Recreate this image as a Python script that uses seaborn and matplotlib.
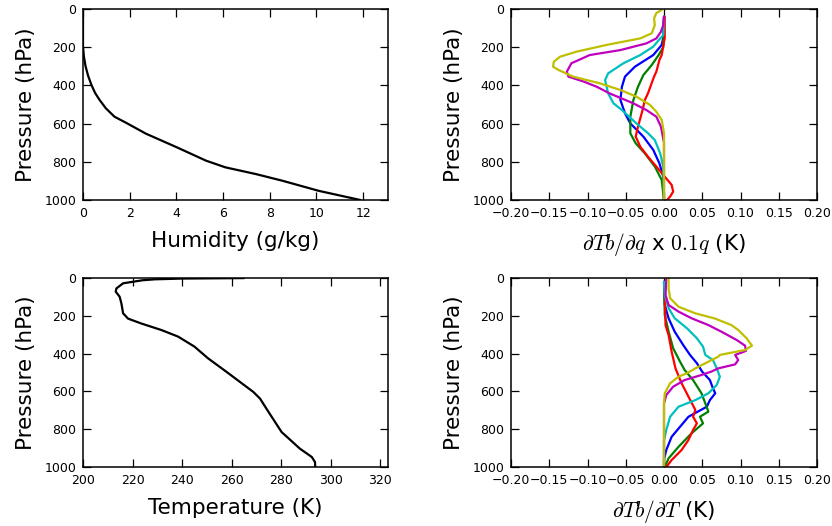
import numpy as np
import pandas as pd
import matplotlib
matplotlib.use("Agg")
import matplotlib.pyplot as plt
import seaborn as sns

# ---------------- data ----------------
# humidity profile (g/kg) vs pressure (hPa)
hum_p = [0, 100, 194, 250, 300, 350, 397, 440, 476, 520, 564, 596, 653, 723, 794, 829, 864, 899, 952, 1000]
hum_q = [0.0, 0.0, 0.0, 0.04, 0.11, 0.22, 0.36, 0.52, 0.71, 0.98, 1.35, 1.85, 2.7, 4.0, 5.27, 6.1, 7.4, 8.54, 10.1, 11.88]

# temperature profile (K) vs pressure (hPa)
tmp_p = [0.5, 3, 7, 12, 28, 55, 72, 99, 134, 187, 215, 241, 275, 310, 363, 425, 497, 603, 638, 700, 815, 903, 947, 974, 1000]
tmp_T = [265, 240, 229, 224, 216.2, 213.5, 213.2, 214.8, 215.5, 216.2, 218.2, 223.6, 231.6, 238.4, 245.0, 250.5,
         258.0, 268.8, 271.5, 274.5, 280.2, 287.6, 292.4, 293.7, 293.8]

channels = ["b", "g", "r", "c", "m", "y"]

# dTb/dq x 0.1q (K)
dq_b_p = [40, 150, 188, 241, 302, 354, 407, 476, 546, 599, 668, 738, 808, 878, 1000]
dq_b_v = [0.0, -0.001, -0.003, -0.014, -0.038, -0.051, -0.055, -0.057, -0.051, -0.044, -0.027, -0.014, -0.006, -0.001, 0.0]
dq_g_p = [40, 200, 241, 293, 346, 407, 476, 564, 625, 651, 703, 756, 825, 895, 1000]
dq_g_v = [0.0, -0.001, -0.007, -0.016, -0.027, -0.034, -0.040, -0.044, -0.044, -0.044, -0.037, -0.025, -0.012, -0.003, 0.0]
dq_r_p = [40, 150, 241, 267, 328, 354, 398, 442, 476, 529, 616, 668, 721, 773, 825, 878, 921, 956, 982, 1000]
dq_r_v = [0.001, 0.001, -0.003, -0.006, -0.010, -0.013, -0.017, -0.021, -0.025, -0.028, -0.034, -0.037, -0.031,
          -0.021, -0.010, 0.001, 0.010, 0.012, 0.008, 0.004]
dq_c_p = [40, 137, 154, 197, 241, 284, 337, 372, 442, 494, 529, 599, 650, 686, 756, 825, 1000]
dq_c_v = [0.0, -0.001, -0.005, -0.014, -0.031, -0.053, -0.073, -0.077, -0.073, -0.066, -0.055, -0.036, -0.021, -0.012,
          -0.005, -0.001, 0.0]
dq_m_p = [40, 84, 119, 154, 180, 215, 241, 284, 328, 354, 380, 407, 442, 494, 529, 564, 616, 700, 1000]
dq_m_v = [0.0, -0.001, -0.004, -0.010, -0.023, -0.057, -0.097, -0.121, -0.127, -0.125, -0.105, -0.088, -0.071, -0.040,
          -0.023, -0.010, -0.004, 0.0, 0.0]
dq_y_p = [5, 21, 49, 84, 127, 154, 188, 223, 250, 276, 302, 319, 354, 389, 424, 459, 503, 538, 581, 650, 1000]
dq_y_v = [-0.003, -0.010, -0.013, -0.012, -0.016, -0.031, -0.075, -0.114, -0.136, -0.144, -0.145, -0.138, -0.119,
          -0.084, -0.057, -0.036, -0.018, -0.010, -0.003, 0.0, 0.0]

# dTb/dT (K)
dT_b_p = [20, 143, 213, 284, 354, 407, 451, 496, 540, 584, 610, 646, 681, 734, 787, 840, 910, 960, 1000]
dT_b_v = [0.0, 0.001, 0.006, 0.014, 0.025, 0.034, 0.043, 0.050, 0.060, 0.064, 0.067, 0.060, 0.056, 0.032, 0.021,
          0.010, 0.003, 0.0, 0.0]
dT_g_p = [20, 196, 284, 372, 443, 487, 540, 610, 663, 707, 734, 769, 822, 893, 954, 1000]
dT_g_v = [0.0, 0.001, 0.006, 0.012, 0.021, 0.027, 0.038, 0.049, 0.054, 0.058, 0.047, 0.051, 0.036, 0.019, 0.006, 0.001]
dT_r_p = [20, 250, 302, 390, 478, 557, 628, 698, 734, 769, 804, 857, 910, 963, 1000]
dT_r_v = [0.001, 0.002, 0.006, 0.010, 0.015, 0.023, 0.032, 0.041, 0.038, 0.043, 0.038, 0.032, 0.023, 0.010, 0.003]
dT_c_p = [20, 90, 160, 213, 266, 319, 363, 407, 434, 478, 522, 566, 610, 646, 681, 734, 804, 860, 1000]
dT_c_v = [0.0, 0.001, 0.006, 0.014, 0.030, 0.043, 0.051, 0.054, 0.064, 0.069, 0.073, 0.069, 0.058, 0.041, 0.019,
          0.008, 0.003, 0.0, 0.0]
dT_m_p = [5, 90, 143, 178, 213, 249, 284, 328, 358, 386, 407, 434, 457, 478, 495, 513, 540, 575, 619, 663, 1000]
dT_m_v = [0.003, 0.002, 0.006, 0.019, 0.036, 0.058, 0.075, 0.095, 0.106, 0.107, 0.093, 0.097, 0.093, 0.071, 0.062,
          0.049, 0.027, 0.012, 0.003, 0.0, 0.0]
dT_y_p = [2, 55, 107, 152, 187, 215, 249, 275, 319, 358, 381, 407, 416, 451, 478, 504, 522, 557, 610, 660, 1000]
dT_y_v = [0.006, 0.006, 0.008, 0.019, 0.041, 0.067, 0.088, 0.097, 0.108, 0.115, 0.106, 0.073, 0.071, 0.054, 0.041,
          0.030, 0.019, 0.008, 0.001, 0.0, 0.0]

p_ticks = [0, 200, 400, 600, 800, 1000]
hum_ticks = [0, 2, 4, 6, 8, 10, 12]
tmp_ticks = [200, 220, 240, 260, 280, 300, 320]
jac_ticks = [-0.20, -0.15, -0.10, -0.05, 0.00, 0.05, 0.10, 0.15, 0.20]

# ---------------- build frames ----------------
hum_df = pd.DataFrame({"p": hum_p, "v": hum_q})
tmp_df = pd.DataFrame({"p": tmp_p, "v": tmp_T})


def long_frame(series):
    parts = []
    for ch, (pp, vv) in series.items():
        parts.append(pd.DataFrame({"p": pp, "v": vv, "ch": ch}))
    return pd.concat(parts, ignore_index=True)


dq_df = long_frame({"b": (dq_b_p, dq_b_v), "g": (dq_g_p, dq_g_v), "r": (dq_r_p, dq_r_v),
                    "c": (dq_c_p, dq_c_v), "m": (dq_m_p, dq_m_v), "y": (dq_y_p, dq_y_v)})
dT_df = long_frame({"b": (dT_b_p, dT_b_v), "g": (dT_g_p, dT_g_v), "r": (dT_r_p, dT_r_v),
                    "c": (dT_c_p, dT_c_v), "m": (dT_m_p, dT_m_v), "y": (dT_y_p, dT_y_v)})

palette = {"b": "#0000ff", "g": "#008000", "r": "#ff0000",
           "c": "#00bfbf", "m": "#bf00bf", "y": "#bfbf00"}

# ---------------- style ----------------
sns.set_style("ticks")
plt.rcParams.update({
    "font.family": ["DejaVu Sans"],
    "mathtext.fontset": "cm",
    "axes.edgecolor": "black",
    "axes.linewidth": 1.1,
    "xtick.color": "black", "ytick.color": "black",
    "xtick.direction": "in", "ytick.direction": "in",
    "xtick.top": True, "ytick.right": True,
    "xtick.major.size": 6, "ytick.major.size": 6,
    "xtick.major.width": 0.9, "ytick.major.width": 0.9,
    "xtick.major.pad": 5, "ytick.major.pad": 5,
    "xtick.labelsize": 9, "ytick.labelsize": 9,
    "axes.labelsize": 15.5,
    "axes.labelcolor": "black",
    "text.color": "black",
})

fig = plt.figure(figsize=(8.32, 5.26), dpi=100)
W, H = 832.0, 526.0


def box(x0, y0, x1, y1):
    return [x0 / W, 1 - y1 / H, (x1 - x0) / W, (y1 - y0) / H]


ax_hum = fig.add_axes(box(83, 9, 388, 200))
ax_dq = fig.add_axes(box(511, 9, 817, 200))
ax_tmp = fig.add_axes(box(83, 278, 388, 467))
ax_dT = fig.add_axes(box(511, 278, 817, 467))

lw = 1.6
sns.lineplot(data=hum_df, x="v", y="p", sort=False, estimator=None, color="black", lw=lw, ax=ax_hum)
sns.lineplot(data=tmp_df, x="v", y="p", sort=False, estimator=None, color="black", lw=lw, ax=ax_tmp)
sns.lineplot(data=dq_df, x="v", y="p", hue="ch", hue_order=channels, palette=palette, sort=False,
             estimator=None, lw=lw, legend=False, ax=ax_dq)
sns.lineplot(data=dT_df, x="v", y="p", hue="ch", hue_order=channels, palette=palette, sort=False,
             estimator=None, lw=lw, legend=False, ax=ax_dT)

ax_hum.set_xlim(0, 1.1 * max(hum_q))
ax_hum.set_xticks(hum_ticks)
ax_tmp.set_xlim(200, 1.1 * max(tmp_T))
ax_tmp.set_xticks(tmp_ticks)
for ax in (ax_dq, ax_dT):
    ax.set_xlim(-0.2, 0.2)
    ax.set_xticks(jac_ticks)

for ax in (ax_hum, ax_dq, ax_tmp, ax_dT):
    ax.set_ylim(1000, 0)
    ax.set_yticks(p_ticks)
    ax.set_ylabel("Pressure (hPa)", labelpad=6)
    for s in ax.spines.values():
        s.set_visible(True)
        s.set_color("black")
        s.set_zorder(5)

ax_hum.set_xlabel("Humidity (g/kg)", labelpad=8)
ax_tmp.set_xlabel("Temperature (K)", labelpad=8)
ax_dq.set_xlabel(r"$\partial Tb/\partial q$ x $0.1q$ (K)", labelpad=8)
ax_dT.set_xlabel(r"$\partial Tb/\partial T$ (K)", labelpad=8)

fig.savefig("out.png", dpi=100)
